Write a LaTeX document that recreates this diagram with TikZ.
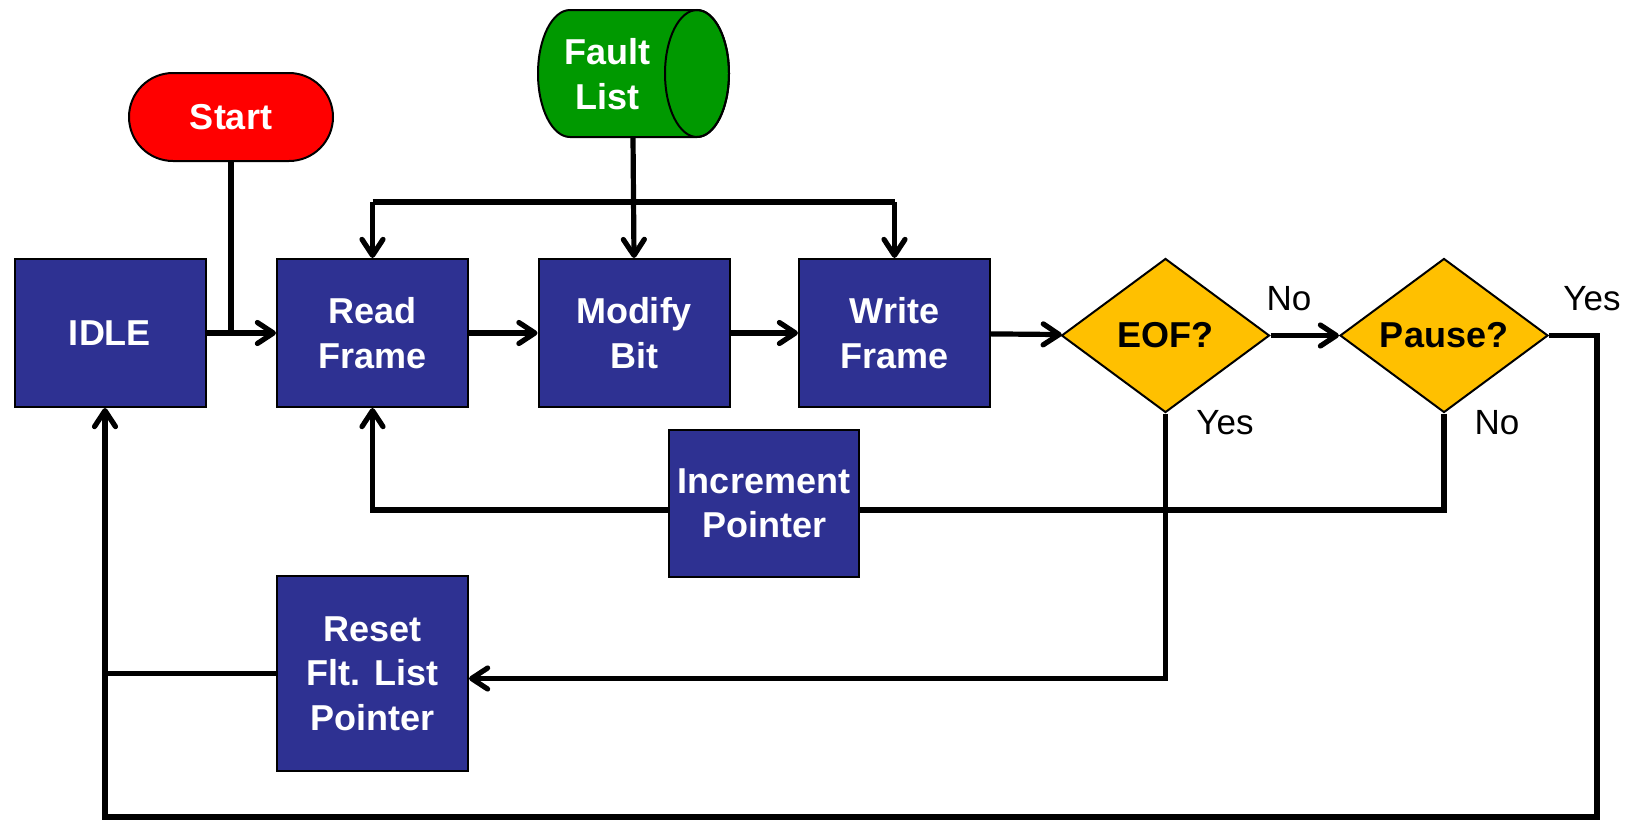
\documentclass[tikz,border=0pt]{standalone}
\usepackage{fontspec}
\setmainfont{Liberation Sans}
\usetikzlibrary{arrows.meta,shapes.geometric,shapes.misc}
\definecolor{boxblue}{RGB}{46,49,146}
\definecolor{decyellow}{RGB}{255,192,0}
\definecolor{storegreen}{RGB}{0,153,0}
\definecolor{startred}{RGB}{255,0,0}
\begin{document}
\begin{tikzpicture}[x=0.5pt,y=0.5pt,
  bigtext/.style={font=\fontsize{18}{22.25}\selectfont\bfseries},
  procbox/.style={draw=black,line width=1pt,fill=boxblue,text=white,bigtext,
    align=center,inner sep=0pt,minimum width=95.5pt,minimum height=74pt},
  decision/.style={diamond,draw=black,line width=1pt,fill=decyellow,text=black,
    bigtext,inner sep=0pt,aspect=1.35,minimum width=104pt,minimum height=77pt},
  link/.style={line width=2.6pt},
  arr/.style={link,-{Straight Barb[length=8pt,width=10.5pt,round]}},
  lbl/.style={font=\fontsize{17.5}{21}\selectfont,inner sep=0pt}
]
\useasboundingbox (0,0) rectangle (1633,-820);

% process boxes
\node[procbox] (idle)   at (110,-333)   {IDLE};
\node[procbox] (read)   at (372.5,-333) {Read\\Frame};
\node[procbox] (modify) at (634,-333)   {Modify\\Bit};
\node[procbox] (write)  at (894.5,-333) {Write\\Frame};
\node[procbox,minimum width=95pt,minimum height=73.5pt] (incr) at (764,-503.5) {Increment\\Pointer};
\node[procbox,minimum height=97.5pt] (reset) at (372.5,-673.5) {Reset\\Flt. List\\Pointer};

% decisions
\node[decision] (eof)   at (1165.5,-335.5) {EOF?};
\node[decision] (pause) at (1444,-335.5)   {Pause?};

% start terminal
\node[rounded rectangle,draw=black,line width=1pt,fill=startred,text=white,bigtext,
  minimum width=102pt,minimum height=44pt,inner sep=0pt] (start) at (231,-117) {Start};

% fault list store (horizontal cylinder)
\filldraw[fill=storegreen,draw=black,line width=1pt]
  (570,-10) arc[start angle=90,end angle=270,x radius=16pt,y radius=31.75pt]
  -- (697,-137) arc[start angle=270,end angle=450,x radius=16pt,y radius=31.75pt]
  -- cycle;
\draw[line width=1pt] (697,-73.5) ellipse[x radius=16pt,y radius=31.75pt];
\node[bigtext,text=white,align=center,inner sep=0pt] (fault) at (607,-74) {Fault\\List};
\coordinate (faultbot) at (633,-137);

% helper coordinates for routed connectors
\coordinate (bar)   at (0,-202);
\coordinate (loop)  at (0,-510);
\coordinate (lower) at (0,-678.5);
\coordinate (c1)    at (1597,-817);
\coordinate (c2)    at (105,-817);

% main flow
\draw[link] (start.south) -- (start.south |- idle.east);
\draw[arr] (idle) -- (read);
\draw[arr] (read) -- (modify);
\draw[arr] (modify) -- (write);
\draw[arr] (write) -- (eof);
\draw[arr] (eof) -- (pause);

% fault list feed
\draw[arr] (faultbot) -- (modify.north);
\draw[link] (bar -| read.north) -- (bar -| write.north);
\draw[arr] (bar -| read.north) -- (read.north);
\draw[arr] (bar -| write.north) -- (write.north);

% pause "No" loop through increment pointer
\draw[link] (pause.south) |- (incr.east |- loop);
\draw[arr] (incr.west |- loop) -| (read.south);

% end of file
\draw[arr] (eof.south) |- (reset.east |- lower);
\draw[link] (reset.west) -- (reset.west -| c2);

% pause "Yes" back to idle
\draw[arr] (pause.east) -| (c1) -- (c2) -- (c2 |- idle.south);

% branch labels
\node[lbl] (l1) at (1289,-299) {No};
\node[lbl] (l2) at (1225,-423) {Yes};
\node[lbl] (l3) at (1497,-423) {No};
\node[lbl] (l4) at (1592,-299) {Yes};
\end{tikzpicture}
\end{document}
